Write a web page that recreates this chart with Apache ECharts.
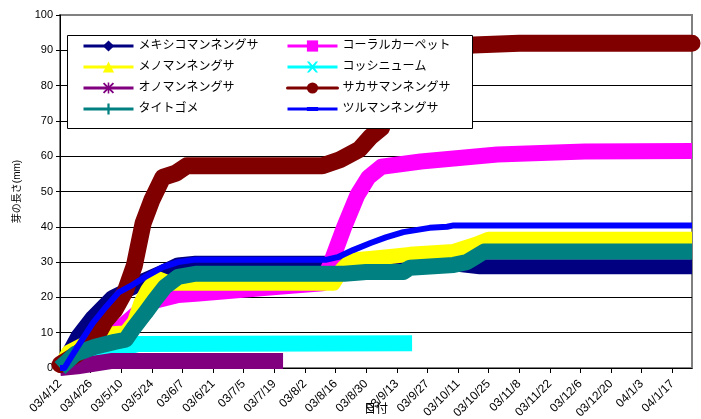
<!DOCTYPE html>
<html>
<head>
<meta charset="utf-8">
<script src="https://cdn.jsdelivr.net/npm/echarts@6/dist/echarts.min.js"></script>
<style>
  html, body { margin: 0; padding: 0; background: #fff; }
  #chart { width: 701px; height: 419px; }
</style>
</head>
<body>
<div id="chart"></div>
<script>
// 日付（2003/4/12から毎日）
const startDay = [2003, 3, 12];
const dayCount = 290;
const dates = [];
for (let i = 0; i < dayCount; i++) {
  const d = new Date(startDay[0], startDay[1], startDay[2] + i);
  dates.push(String(d.getFullYear()).slice(2) + '/' + (d.getMonth() + 1) + '/' + d.getDate());
}

const yTicks = [0, 10, 20, 30, 40, 50, 60, 70, 80, 90, 100];

// [日目, 芽の長さ(mm)]
const mexico = [[0,0.5],[3,3],[8,8.8],[15,14.4],[24,20],[33,22.7],[39,25],[47,27.2],[54,29.2],[62,29.7],[122,29.7],[130,30.5],[140,30.3],[180,29.5],[192,28.7],[289,28.7]];
const coral = [[0,0],[10,3],[18,8],[23,10.5],[28,11.6],[37,16.4],[43,19],[54,20.7],[62,21],[100,23],[120,24],[124,30],[130,40],[136,49],[141,54],[147,57],[165,58.5],[200,60.5],[240,61.3],[289,61.5]];
const meno = [[0,0],[4,4.5],[12,7],[20,9.5],[30,10],[34,13],[37,18.4],[40,22],[44,25.5],[50,24],[62,24],[125,24],[129,28],[133,30.5],[150,31.5],[160,32.2],[180,33],[190,35],[196,36.5],[289,36.5]];
const kosshi = [[0,0],[15,4],[30,6],[36,6.8],[161,7]];
const ono = [[0,0],[8,0.5],[24,2],[102,2]];
const sakasa = [[0,1],[8,4],[16,8],[21,13.6],[25,16.4],[30,22],[34,29],[38,41],[42,47.6],[47,54],[53,55.2],[58,57.3],[120,57.3],[128,59],[137,62],[142,65.5],[147,68],[152,78],[158,87],[165,90],[189,91.5],[210,92],[289,92]];
const taitogome = [[0,0],[7,4],[16,6],[25,7.4],[30,8],[34,11.6],[39,15.6],[43,19],[48,23],[54,25.8],[62,26.7],[130,26.7],[140,27.2],[157,27.2],[160,28.4],[180,29.2],[186,30],[190,31.5],[194,33],[289,33]];
const tsuru = [[0,0],[2,0],[8,6],[15,12.7],[21,17.3],[27,21.5],[33,23.5],[39,25.8],[47,28.6],[54,30],[62,30.7],[122,30.7],[127,31.4],[134,33.4],[142,35.4],[149,37],[157,38.5],[169,39.7],[177,40],[180,40.4],[289,40.4]];

const names = ['メキシコマンネングサ', 'コーラルカーペット', 'メノマンネングサ', 'コッシニューム',
  'オノマンネングサ', 'サカサマンネングサ', 'タイトゴメ', 'ツルマンネングサ'];
const values = [mexico, coral, meno, kosshi, ono, sakasa, taitogome, tsuru];
const colors = ['#000080', '#FF00FF', '#FFFF00', '#00FFFF', '#800080', '#800000', '#008080', '#0000FF'];
const symbols = [
  'diamond', 'rect', 'triangle',
  'path://M0,0L2,0L5,3.5L8,0L10,0L6.2,5L10,10L8,10L5,6.5L2,10L0,10L3.8,5Z',
  'path://M0,1.2L1.2,0L5,3.8L8.8,0L10,1.2L6.2,5L10,8.8L8.8,10L5,6.2L1.2,10L0,8.8L3.8,5Z M4.3,0H5.7V10H4.3Z M0,4.3H10V5.7H0Z',
  'circle',
  'path://M4,0H6V4H10V6H6V10H4V6H0V4H4Z',
  'path://M5,0L5,0L5,0Z M2,3.2H8V6.8H2Z M5,10L5,10L5,10Z'
];
const widths = [15, 16, 15, 16, 16, 17, 16, 6];

const FONT = '"Liberation Sans", "Noto Sans CJK JP", sans-serif';

let myChart = echarts.init(document.getElementById('chart'));

let series = names.map(function (n, i) {
  return {
    name: n,
    type: 'line',
    z: 1,
    data: values[i],
    symbol: symbols[i],
    showSymbol: false,
    color: colors[i],
    itemStyle: { color: colors[i] },
    lineStyle: {
      color: colors[i],
      width: widths[i],
      join: 'round',
      cap: i === 5 ? 'round' : 'butt'
    },
    emphasis: { disabled: true },
    animation: false
  };
});

let legendBase = {
  orient: 'vertical',
  top: 40,
  itemGap: 9,
  itemWidth: 50,
  itemHeight: 14,
  padding: 0,
  z: 10,
  textStyle: { fontSize: 12, color: '#000', fontFamily: FONT },
  lineStyle: { width: 3 },
  selectedMode: false
};

// 100の線は枠と同じ灰色
let splitColors = yTicks.map(function (v) { return v === 100 ? '#808080' : '#000'; });

let option = {
  backgroundColor: '#fff',
  animation: false,
  textStyle: { fontFamily: FONT },
  grid: {
    left: 60, right: 9, top: 15, bottom: 51,
    outerBoundsMode: 'none',
    containLabel: false,
    show: true,
    borderColor: '#808080',
    borderWidth: 2,
    backgroundColor: 'transparent'
  },
  legend: [
    Object.assign({}, legendBase, { left: 82, data: [names[0], names[2], names[4], names[6]] }),
    Object.assign({}, legendBase, { left: 286, data: [names[1], names[3], names[5], names[7]] })
  ],
  graphic: {
    z: 5,
    elements: [{
      type: 'rect',
      z: 5,
      shape: { x: 67.5, y: 35.5, width: 405, height: 93 },
      style: { fill: '#fff', stroke: '#000', lineWidth: 1 }
    }]
  },
  xAxis: {
    type: 'category',
    data: dates,
    boundaryGap: false,
    name: '日付',
    nameLocation: 'middle',
    nameGap: 36,
    nameMoveOverlap: false,
    nameTextStyle: { fontSize: 12, color: '#000', fontFamily: FONT },
    axisLine: { lineStyle: { color: '#000', width: 1 } },
    axisTick: { show: true, interval: 13, length: 5, lineStyle: { color: '#000' } },
    axisLabel: { interval: 13, rotate: 45, fontSize: 12, color: '#000', margin: 14, fontFamily: FONT },
    splitLine: { show: false }
  },
  yAxis: {
    type: 'value',
    min: yTicks[0],
    max: yTicks[yTicks.length - 1],
    interval: 10,
    name: '芽の長さ(mm)',
    nameLocation: 'middle',
    nameRotate: 90,
    nameGap: 38,
    nameTextStyle: { fontSize: 10, color: '#000', fontFamily: FONT },
    axisLine: { show: true, lineStyle: { color: '#000', width: 1 } },
    axisTick: { show: true, length: 4, lineStyle: { color: '#000' } },
    axisLabel: { fontSize: 11, color: '#000', margin: 7, fontFamily: FONT },
    splitLine: { show: true, lineStyle: { color: splitColors, width: 1 } }
  },
  series: series
};

myChart.setOption(option);
</script>
</body>
</html>
